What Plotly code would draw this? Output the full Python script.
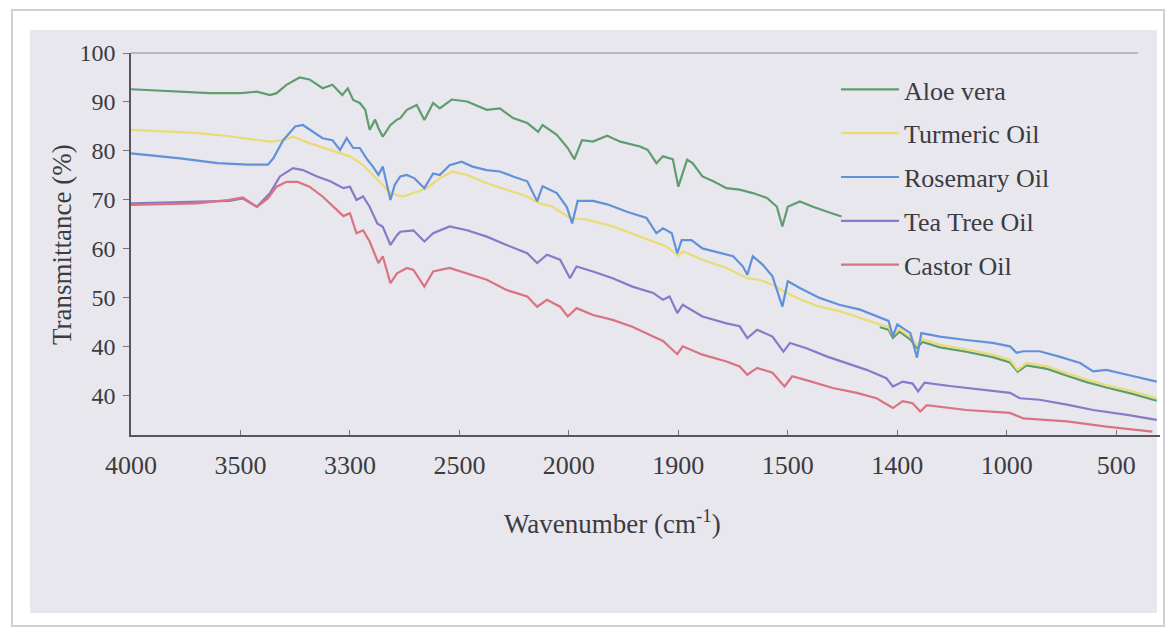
import plotly.graph_objects as go

# x positions are in tick-slot units: 0 -> "4000", 1 -> "3500", ... 9 -> "500"
x_tick_pos = [0, 1, 2, 3, 4, 5, 6, 7, 8, 9]
x_tick_labels = ["4000", "3500", "3300", "2500", "2000", "1900", "1500", "1400", "1000", "500"]
y_tick_vals = [100, 90, 80, 70, 60, 50, 40, 30]
y_tick_labels = ["100", "90", "80", "70", "60", "50", "40", "40"]

aloe_x = [0, 0.72, 1.00, 1.15, 1.27, 1.33, 1.42, 1.54, 1.63, 1.75, 1.84, 1.93, 1.98, 2.03, 2.09, 2.14,
          2.18, 2.23, 2.26, 2.30, 2.37, 2.43, 2.46, 2.52, 2.61, 2.68, 2.76, 2.82, 2.93, 3.07, 3.25,
          3.37, 3.49, 3.62, 3.72, 3.76, 3.89, 3.99, 4.05, 4.12, 4.22, 4.35, 4.47, 4.65, 4.72, 4.80,
          4.86, 4.95, 5.00, 5.08, 5.13, 5.22, 5.32, 5.44, 5.56, 5.68, 5.81, 5.90, 5.95, 6.00, 6.11,
          6.23, 6.36, 6.49, None,
          6.84, 6.92, 6.96, 7.02, 7.12, 7.18, 7.23, 7.39, 7.63, 7.87, 8.03, 8.10, 8.18, 8.37, 8.55,
          8.73, 8.91, 9.15, 9.37]
aloe_y = [92.6, 91.8, 91.8, 92.1, 91.4, 91.8, 93.5, 95.0, 94.6, 92.8, 93.5, 91.4, 92.8, 90.4, 89.8, 88.4,
          84.3, 86.4, 84.7, 82.9, 85.3, 86.4, 86.7, 88.4, 89.4, 86.3, 89.8, 88.7, 90.5, 90.1, 88.4,
          88.7, 86.7, 85.7, 83.9, 85.3, 83.3, 80.6, 78.3, 82.2, 81.9, 83.1, 81.9, 80.9, 80.2, 77.5,
          78.9, 78.3, 72.7, 78.2, 77.5, 74.8, 73.8, 72.4, 72.1, 71.4, 70.4, 68.6, 64.6, 68.6, 69.7,
          68.6, 67.6, 66.6, None,
          44.0, 43.5, 41.8, 43.1, 41.5, 39.8, 41.0, 39.9, 39.0, 37.9, 36.8, 34.9, 36.2, 35.5, 34.1,
          32.8, 31.7, 30.4, 29.0]

turmeric_x = [0, 0.60, 0.90, 1.27, 1.39, 1.48, 1.63, 1.82, 2.00, 2.12, 2.25, 2.37, 2.48, 2.58, 2.70,
              2.82, 2.94, 3.07, 3.25, 3.43, 3.62, 3.72, 3.85, 4.01, 4.16, 4.40, 4.65, 4.89, 5.00,
              5.04, 5.22, 5.44, 5.63, 5.74, 5.86, 5.99, 6.11, 6.29, 6.47, 6.66, 6.84, 6.92, 6.96,
              7.02, 7.12, 7.18, 7.23, 7.39, 7.63, 7.87, 8.03, 8.10, 8.18, 8.37, 8.55, 8.73, 8.91,
              9.15, 9.37]
turmeric_y = [84.3, 83.7, 83.0, 81.9, 82.2, 82.9, 81.6, 80.2, 78.9, 77.1, 74.1, 71.4, 70.7, 71.4, 72.4,
              74.4, 75.8, 75.1, 73.4, 72.1, 70.7, 69.4, 68.6, 66.3, 66.0, 64.6, 62.5, 60.5, 58.6,
              59.5, 57.8, 56.1, 54.0, 53.7, 52.7, 51.0, 49.7, 48.2, 47.3, 45.9, 44.5, 44.0, 42.4,
              43.6, 42.0, 40.3, 41.6, 40.4, 39.5, 38.4, 37.3, 35.3, 36.7, 36.0, 34.6, 33.3, 32.2,
              30.9, 29.5]

rosemary_x = [0, 0.45, 0.79, 1.06, 1.25, 1.30, 1.39, 1.50, 1.57, 1.66, 1.75, 1.84, 1.91, 1.97, 2.03,
              2.09, 2.16, 2.21, 2.26, 2.30, 2.37, 2.41, 2.46, 2.52, 2.59, 2.68, 2.76, 2.82, 2.91,
              3.02, 3.12, 3.25, 3.37, 3.49, 3.62, 3.71, 3.76, 3.89, 3.98, 4.03, 4.08, 4.22, 4.35,
              4.53, 4.71, 4.80, 4.86, 4.94, 4.99, 5.03, 5.12, 5.22, 5.38, 5.50, 5.59, 5.63, 5.68,
              5.77, 5.86, 5.95, 6.00, 6.11, 6.29, 6.47, 6.66, 6.84, 6.92, 6.96, 7.00, 7.12, 7.18,
              7.22, 7.39, 7.63, 7.87, 8.03, 8.09, 8.15, 8.30, 8.48, 8.67, 8.79, 8.91, 9.10, 9.37]
rosemary_y = [79.5, 78.5, 77.5, 77.2, 77.2, 78.5, 82.2, 85.0, 85.3, 83.9, 82.6, 82.2, 80.2, 82.6, 80.6,
              80.6, 78.2, 76.8, 75.1, 76.8, 70.0, 73.1, 74.8, 75.1, 74.4, 72.4, 75.4, 75.1, 77.1,
              77.8, 76.8, 76.1, 75.8, 74.8, 73.8, 69.7, 72.8, 71.4, 68.6, 65.2, 69.8, 69.8, 69.1,
              67.6, 66.3, 63.2, 64.2, 63.2, 59.1, 61.8, 61.8, 60.1, 59.1, 58.5, 56.4, 54.7, 58.5,
              56.8, 54.4, 48.2, 53.4, 52.0, 50.0, 48.6, 47.6, 45.9, 45.3, 42.2, 44.6, 42.8, 37.8,
              42.8, 42.1, 41.4, 40.8, 40.1, 38.8, 39.1, 39.1, 38.0, 36.7, 35.0, 35.3, 34.3, 32.9]

teatree_x = [0, 0.90, 1.02, 1.15, 1.27, 1.36, 1.48, 1.57, 1.70, 1.82, 1.94, 2.00, 2.06, 2.12, 2.18,
             2.25, 2.30, 2.37, 2.43, 2.46, 2.58, 2.68, 2.76, 2.91, 3.07, 3.25, 3.43, 3.62, 3.71,
             3.80, 3.92, 4.01, 4.07, 4.22, 4.40, 4.58, 4.77, 4.86, 4.92, 4.99, 5.04, 5.22, 5.44,
             5.56, 5.63, 5.72, 5.86, 5.96, 6.02, 6.17, 6.36, 6.54, 6.72, 6.90, 6.96, 7.05, 7.14,
             7.19, 7.25, 7.48, 7.78, 8.03, 8.12, 8.30, 8.55, 8.79, 9.10, 9.37]
teatree_y = [69.3, 69.8, 70.3, 68.6, 71.4, 74.8, 76.5, 76.1, 74.8, 73.8, 72.4, 72.7, 70.0, 70.7, 68.6,
             65.2, 64.5, 60.8, 62.8, 63.5, 63.8, 61.5, 63.2, 64.6, 63.8, 62.5, 60.8, 59.1, 57.1,
             58.8, 57.8, 54.0, 56.4, 55.4, 54.0, 52.3, 51.0, 49.6, 50.3, 46.9, 48.6, 46.2, 44.8,
             44.2, 41.8, 43.5, 42.1, 39.0, 40.8, 39.7, 38.0, 36.7, 35.3, 33.6, 31.9, 32.9, 32.5,
             30.9, 32.7, 32.0, 31.3, 30.6, 29.5, 29.2, 28.2, 27.1, 26.1, 25.1]

castor_x = [0, 0.60, 0.90, 1.02, 1.15, 1.25, 1.33, 1.42, 1.52, 1.63, 1.75, 1.88, 1.94, 2.00, 2.06,
            2.12, 2.18, 2.26, 2.30, 2.37, 2.43, 2.52, 2.58, 2.68, 2.76, 2.91, 3.07, 3.25, 3.43,
            3.62, 3.71, 3.80, 3.92, 3.99, 4.07, 4.22, 4.40, 4.58, 4.77, 4.86, 4.99, 5.04, 5.22,
            5.44, 5.56, 5.63, 5.72, 5.86, 5.97, 6.04, 6.20, 6.41, 6.63, 6.81, 6.96, 7.05, 7.14,
            7.21, 7.27, 7.63, 8.03, 8.15, 8.55, 8.91, 9.33]
castor_y = [69.0, 69.3, 70.0, 70.5, 68.6, 70.3, 72.7, 73.7, 73.7, 72.7, 70.7, 68.0, 66.7, 67.3, 63.2,
            63.8, 61.5, 57.1, 58.5, 53.0, 55.0, 56.1, 55.7, 52.3, 55.4, 56.1, 55.0, 53.7, 51.6,
            50.3, 48.2, 49.6, 48.2, 46.2, 47.9, 46.5, 45.5, 44.1, 42.1, 41.2, 38.5, 40.1, 38.4,
            37.0, 36.0, 34.3, 35.7, 34.7, 31.9, 34.0, 33.0, 31.6, 30.6, 29.5, 27.5, 28.9, 28.5,
            26.8, 28.1, 27.1, 26.5, 25.4, 24.8, 23.7, 22.7]

series_names = ["Aloe vera", "Turmeric Oil", "Rosemary Oil", "Tea Tree Oil", "Castor Oil"]
series_colors = ["#5f9c70", "#e9dc74", "#6191d8", "#8a78c8", "#d9737f"]
series_x = [aloe_x, turmeric_x, rosemary_x, teatree_x, castor_x]
series_y = [aloe_y, turmeric_y, rosemary_y, teatree_y, castor_y]

FONT = "Liberation Serif, DejaVu Serif, serif"
TXT = "#3b3b40"

fig = go.Figure()
for name, col, xs, ys in zip(series_names, series_colors, series_x, series_y):
    fig.add_trace(go.Scatter(
        x=xs, y=ys, name=name, mode="lines", legendgroup=name,
        line=dict(color=col, width=2.2), connectgaps=False,
    ))

# pixel geometry helpers (plot area: x 131..1160, y 53..435)
L, R, T, B = 131, 1160, 53, 435
def px(xp):
    return (xp - L) / (R - L)
def py(yp):
    return (B - yp) / (B - T)

fig.update_layout(
    width=1165, height=629,
    margin=dict(l=L, r=1165 - R, t=T, b=629 - B),
    paper_bgcolor="white",
    plot_bgcolor="#efeef4",
    font=dict(family=FONT, color=TXT, size=26),
    showlegend=True,
    legend=dict(
        x=px(836), y=py(66), xanchor="left", yanchor="top",
        bgcolor="rgba(0,0,0,0)", borderwidth=0,
        font=dict(family=FONT, size=26, color=TXT),
        traceorder="grouped", tracegroupgap=7, itemwidth=58,
    ),
    xaxis=dict(
        range=[0, 9.4], tickmode="array", tickvals=x_tick_pos, ticktext=x_tick_labels,
        showgrid=False, zeroline=False, showline=True, linecolor="#55555c", linewidth=1.6,
        ticks="inside", ticklen=5, tickcolor="#777", tickfont=dict(size=26, family=FONT, color=TXT),
        ticklabelstandoff=6,
    ),
    yaxis=dict(
        range=[22, 100], tickmode="array", tickvals=y_tick_vals, ticktext=y_tick_labels,
        showgrid=False, zeroline=False, showline=True, linecolor="#55555c", linewidth=1.6,
        ticks="outside", ticklen=6, tickcolor="#777", tickfont=dict(size=24, family=FONT, color=TXT),
        ticklabelstandoff=3,
    ),
    shapes=[
        dict(type="rect", xref="paper", yref="paper", layer="below",
             x0=px(12), x1=px(1164), y0=py(626), y1=py(10),
             line=dict(color="#cfcfd3", width=2), fillcolor="white"),
        dict(type="rect", xref="paper", yref="paper", layer="below",
             x0=px(30), x1=px(1157), y0=py(613), y1=py(30),
             line=dict(width=0), fillcolor="#e8e7ee"),
        dict(type="line", xref="paper", yref="paper", layer="above",
             x0=0, x1=px(1138), y0=1, y1=1, line=dict(color="#a9a9b0", width=1.4)),
    ],
    annotations=[
        dict(text="Wavenumber (cm<sup>-1</sup>)", xref="paper", yref="paper",
             x=px(612), y=py(522), xanchor="center", yanchor="middle", showarrow=False,
             font=dict(size=27, family=FONT, color=TXT)),
        dict(text="Transmittance (%)", xref="paper", yref="paper", textangle=-90,
             x=px(62), y=py(245), xanchor="center", yanchor="middle", showarrow=False,
             font=dict(size=27, family=FONT, color=TXT)),
    ],
)

fig.write_html("out.html")
